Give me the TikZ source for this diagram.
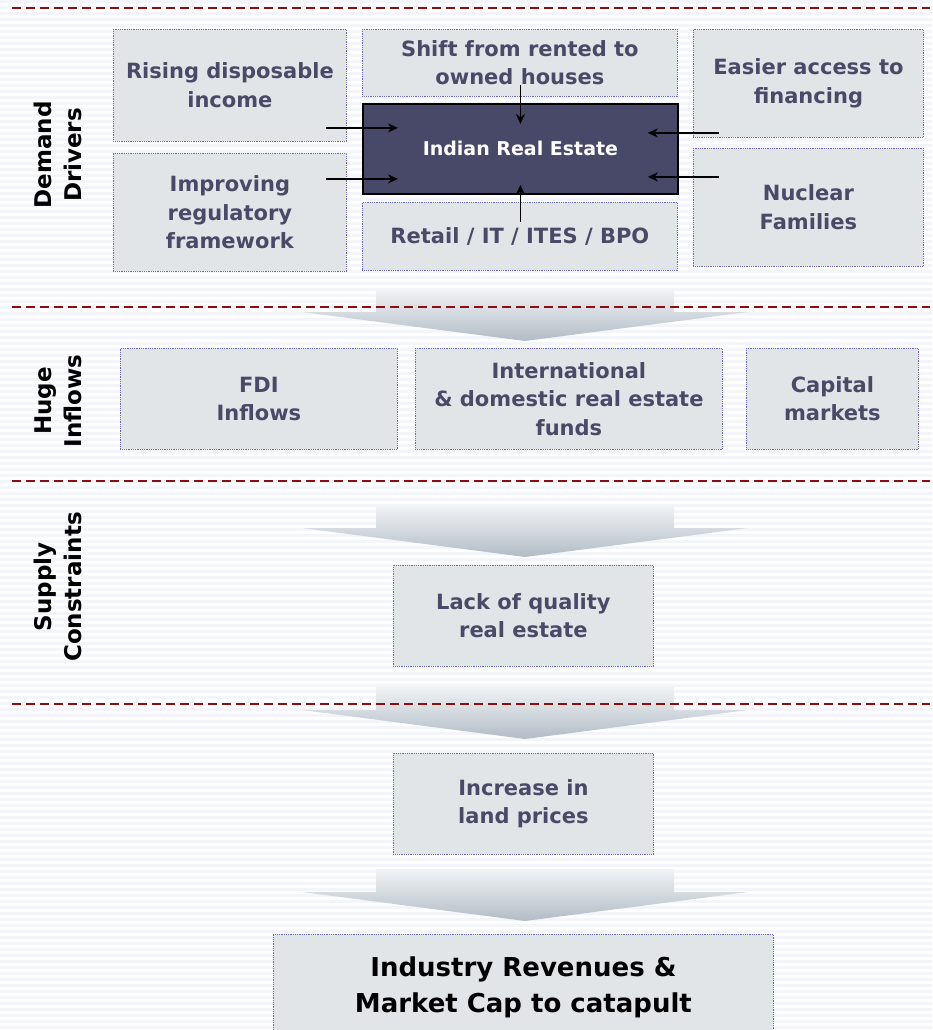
\documentclass[tikz,border=0pt]{standalone}
\usepackage{fontspec}
\setmainfont{DejaVu Sans}
\usetikzlibrary{arrows.meta,calc}
\definecolor{boxfill}{HTML}{E2E5E8}
\definecolor{boxline}{HTML}{6A6AC8}
\definecolor{boxtext}{HTML}{4A4A68}
\definecolor{corefill}{HTML}{484868}
\definecolor{sepred}{HTML}{8B0F0F}
\definecolor{stripe}{HTML}{F4F4FB}
\definecolor{flowtop}{HTML}{F1F3F5}
\definecolor{flowbot}{HTML}{B2BCC6}
\tikzset{
  box/.style={draw=boxline, densely dotted, line width=0.8pt, fill=boxfill,
    text=boxtext, font=\fontsize{21}{28.5}\selectfont\bfseries, align=center,
    anchor=north west, inner sep=2pt},
  core/.style={draw=black, line width=1.8pt, fill=corefill, text=white,
    font=\fontsize{19}{22}\selectfont\bfseries, anchor=north west},
  sidelabel/.style={rotate=90, font=\fontsize{23}{30}\selectfont\bfseries, align=center},
  sep/.style={draw=sepred, dashed, dash pattern=on 9pt off 5pt, line width=1.3pt},
  arr/.style={-{Stealth[length=10pt,width=9pt]}, line width=1.6pt},
  flow/.style={top color=flowtop, bottom color=flowbot},
}
% big down-pointing block arrow whose top edge sits at #1
\newcommand{\flowarrow}[1]{%
  \shade[flow] (376,#1) -- (674,#1) -- (674,#1+23) -- (748,#1+23)
    -- (525,#1+52) -- (302,#1+23) -- (376,#1+23) -- cycle;}
\begin{document}
\begin{tikzpicture}[x=1pt,y=-1pt]
\useasboundingbox (0,0) rectangle (932,1030);
\clip (0,0) rectangle (932,1030);
% striped backdrop
\fill[white] (0,0) rectangle (932,1030);
\foreach \yy in {0,6,...,1030} \fill[stripe] (0,\yy) rectangle (932,\yy+3);

% block arrows between the stages
\flowarrow{289}
\flowarrow{505}
\flowarrow{687}
\flowarrow{869}

% stage separators
\foreach \yy in {8,307,481,704} \draw[sep] (12,\yy) -- (930,\yy);

% stage labels
\node[sidelabel] (lblDemand) at (58,155) {Demand\\Drivers};
\node[sidelabel] (lblInflow) at (58,401) {Huge\\Inflows};
\node[sidelabel] (lblSupply) at (58,587) {Supply\\Constraints};

% demand drivers
\node[box, minimum width=233pt, minimum height=112pt] (rising) at (113,29) {Rising disposable\\income};
\node[box, minimum width=233pt, minimum height=118pt] (regul) at (113,153) {Improving\\regulatory\\framework};
\node[box, minimum width=315pt, minimum height=67pt] (shift) at (362,29) {Shift from rented to\\owned houses};
\node[box, minimum width=315pt, minimum height=68pt] (retail) at (362,202) {Retail / IT / ITES / BPO};
\node[box, minimum width=230pt, minimum height=108pt] (finance) at (693,29) {Easier access to\\financing};
\node[box, minimum width=230pt, minimum height=118pt] (nuclear) at (693,148) {Nuclear\\Families};
\node[core, minimum width=315pt, minimum height=90pt] (ire) at (362,103) {Indian Real Estate};

% drivers pushing into the core
\draw[arr] ([shift={(-36,-21)}]ire.west) -- ([shift={(36,-21)}]ire.west);
\draw[arr] ([shift={(-36,30)}]ire.west) -- ([shift={(36,30)}]ire.west);
\draw[arr] ([shift={(40,-16)}]ire.east) -- ([shift={(-31,-16)}]ire.east);
\draw[arr] ([shift={(40,28)}]ire.east) -- ([shift={(-31,28)}]ire.east);
\draw[arr] ([shift={(0,-18)}]ire.north) -- ([shift={(0,21)}]ire.north);
\draw[arr] ([shift={(0,27)}]ire.south) -- ([shift={(0,-10)}]ire.south);

% huge inflows
\node[box, minimum width=277pt, minimum height=101pt] (fdi) at (120,348) {FDI\\Inflows};
\node[box, minimum width=307pt, minimum height=101pt] (funds) at (415,348) {International\\\& domestic real estate\\funds};
\node[box, minimum width=172pt, minimum height=101pt] (capital) at (746,348) {Capital\\markets};

% supply constraints
\node[box, minimum width=260pt, minimum height=101pt] (lack) at (393,565) {Lack of quality\\real estate};
\node[box, minimum width=260pt, minimum height=101pt] (land) at (393,753) {Increase in\\land prices};

% outcome
\node[box, text=black, font=\fontsize{26}{36}\selectfont\bfseries, minimum width=500pt, minimum height=106pt,
  anchor=north west] (outcome) at (273,934) {Industry Revenues \&\\Market Cap to catapult};
\end{tikzpicture}
\end{document}
